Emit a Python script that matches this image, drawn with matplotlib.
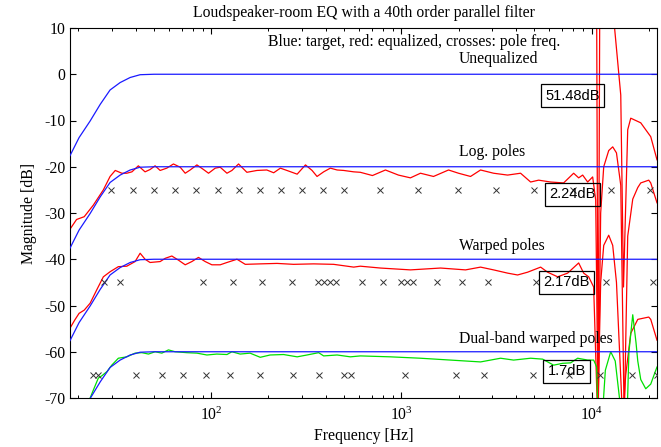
import matplotlib
matplotlib.use('Agg')
import matplotlib.pyplot as plt


# target response (relative dB)
target_f = [18.1, 20.2, 23.1, 26.1, 29.4, 33.2, 37.5, 42.3, 50, 22050]
target_db = [-17.6, -13.7, -10.1, -6.5, -3.4, -1.8, -0.7, -0.1, 0, 0]
group_offsets = [0, -20, -40, -60]

# unequalized response (mostly above the visible range)
uneq_f = [18.1, 9000, 10500, 10625, 10820, 11020, 11570, 13060, 14220, 14700,
          15470, 16050, 18110, 20440, 22050]
uneq_db = [25, 25, 18, 12, -75, 12, 20, 12, -4.5, -46,
           -12, -9.5, -10.5, -13.5, -18.5]

# log. poles equalized
logp_f = [18.1, 19.6, 21.5, 24.0, 27.1, 29.4, 31.3, 33.9, 36.0, 38.3, 41.4, 44.9,
          47.7, 50.7, 53.9, 58.4, 63.3, 68.7, 73.0, 77.5, 84.1, 91.1, 96.8, 105,
          111.5, 121, 128.5, 139.2, 154, 174, 196, 213, 231, 250, 283, 313, 339,
          360, 390, 423, 459, 497, 561, 608, 704, 824, 964, 1115, 1259, 1474,
          1768, 1995, 2308, 2605, 3050, 3614, 4229, 4776, 5262, 6085, 7121, 8040,
          8543, 8967, 9526, 10120, 10500, 10820, 11150, 11570, 12290, 12900,
          13500, 14220, 14830, 15470, 16440, 17470, 18110, 19950, 20440, 22050]
logp_db = [-33.5, -31.4, -30.8, -28.3, -25.0, -22.1, -20.8, -21.4, -21.4, -21.1,
           -19.8, -21.1, -20.6, -19.8, -20.8, -20.3, -19.4, -20.1, -21.4, -20.7,
           -19.6, -20.6, -21.4, -20.3, -20.1, -21.4, -20.8, -19.4, -21.2, -20.8,
           -20.7, -21.3, -20.3, -20.8, -21.6, -19.6, -20.8, -22.1, -21.1, -20.3,
           -20.7, -20.8, -21.1, -21.2, -21.9, -20.7, -21.8, -22.4, -21.4, -22.1,
           -20.7, -21.4, -22.1, -20.7, -21.4, -21.8, -21.4, -23.3, -22.9, -23.3,
           -23.5, -21.4, -22.4, -21.8, -23.3, -22.2, -27.2, -75, -30, -20,
           -16.5, -15.7, -17, -24, -75, -35, -27, -24.5, -23.5, -22.9,
           -23.5, -27.8]
logp_poles = [29.8, 38.7, 50.1, 64.6, 83.4, 108.5, 139.9, 181, 232.7, 298.8,
              388.6, 499.6, 775, 1229, 1971, 3124, 4952, 7943, 12589, 20200]

# warped poles equalized
warp_f = [18.1, 19.2, 20.2, 21.5, 23.1, 25.1, 27.1, 29.4, 32.5, 36.0, 39.8, 42.3,
          44.9, 47.7, 53.9, 57.3, 62.1, 67.3, 73.0, 79.1, 85.7, 93.0, 100.8,
          111.5, 121, 136.6, 151, 181, 222, 271, 345, 440, 518, 561, 608, 775,
          1115, 1605, 2172, 2605, 3050, 3614, 4078, 4604, 5391, 5868, 6624,
          7475, 8543, 9077, 9643, 10245, 10755, 11150, 11570, 12290, 12900,
          13500, 14560, 15100, 16050, 17470, 19950, 20440, 22050]
warp_db = [-54.9, -53.1, -51.7, -51.0, -49.5, -46.5, -43.8, -42.7, -41.6, -41.5,
           -40.5, -38.7, -40.0, -40.7, -40.5, -39.8, -39.3, -40.2, -41.2, -40.5,
           -39.6, -40.5, -41.2, -41.2, -40.7, -40.0, -41.1, -41.0, -40.9, -41.1,
           -41.0, -41.1, -41.5, -41.7, -41.5, -41.9, -42.3, -41.9, -42.3, -41.7,
           -42.3, -43.0, -43.4, -42.8, -41.7, -42.8, -43.8, -43.0, -40.8, -43.0,
           -43.8, -46.0, -75, -45, -37, -34.8, -37, -45, -75, -65, -56, -53,
           -52.5, -53, -57.5]
warp_poles = [27.3, 33.2, 90.8, 130.6, 185.5, 266.9, 365.8, 393.3, 423, 455,
              623, 804, 1000, 1075, 1157, 1547, 2070, 2836, 5073, 11850, 20950]

# dual-band warped poles equalized
dual_f = [18.1, 20.2, 23.1, 24.0, 25.5, 26.6, 28.3, 30.0, 32.5, 36.0, 39.8, 43.2,
          46.8, 50.7, 55.0, 59.6, 64.6, 74.5, 84.1, 94.9, 107, 121, 128.5, 142,
          160, 181, 204, 240, 283, 319, 367, 390, 459, 539, 608, 875, 1259, 1811,
          2605, 3320, 3886, 4776, 5524, 6310, 7036, 7752, 8440, 9526, 10245,
          10625, 10820, 11300, 11800, 12590, 13300, 14000, 14400, 15300, 15700,
          16440, 17100, 17470, 18110, 19240, 20440, 21500, 22050]
dual_db = [-78, -74.5, -70.0, -68.3, -65.7, -65.2, -64.3, -62.9, -61.4, -61.1,
           -60.3, -60.2, -60.5, -60.0, -60.3, -59.6, -60.0, -60.2, -60.3, -60.7,
           -60.5, -60.6, -60.0, -60.5, -60.3, -61.2, -60.7, -60.6, -61.1, -60.7,
           -60.2, -60.9, -60.7, -61.1, -60.9, -61.1, -61.4, -61.8, -62.2, -61.4,
           -61.8, -61.4, -61.6, -62.9, -62.5, -62.4, -61.4, -61.8, -61.8, -63.3,
           -76, -76, -64, -60, -62, -70, -76, -76, -60, -52, -58, -62, -66, -68,
           -67, -64.5, -63.3]
dual_poles = [24.0, 25.5, 40.3, 55.0, 70.9, 94.1, 124.8, 179.6, 267.9, 367,
              497, 543.6, 1050, 1924, 2701, 4893, 7565, 11020, 16240, 22000]

# text labels
group_names = ['Unequalized', 'Log. poles', 'Warped poles', 'Dual-band warped poles']
name_f = [2000, 2000, 2000, 2000]
name_db = [3.3, -16.9, -37.1, -57.2]
err_labels = ['51.48dB', '2.24dB', '2.17dB', '1.7dB']
err_f = [7943, 7900, 7380, 7380]
err_db = [-4.6, -26.0, -45.0, -64.2]

serif = ['Liberation Serif', 'DejaVu Serif']
sans = ['Liberation Sans', 'DejaVu Sans']
fs = 11.3


def draw():
    plt.rcParams['font.family'] = serif
    plt.rcParams['mathtext.fontset'] = 'custom'
    plt.rcParams['mathtext.rm'] = 'Liberation Serif'
    plt.rcParams['axes.unicode_minus'] = False

    fig = plt.figure(figsize=(6.61, 4.47), dpi=100)
    ax = fig.add_axes([70 / 661, 49 / 447, 587 / 661, 370 / 447])

    # blue targets
    for off in group_offsets:
        ax.plot(target_f, [v + off for v in target_db], color='#1a1aff', lw=0.9, zorder=3)

    # equalized curves
    ax.plot(uneq_f, uneq_db, color='red', lw=0.9, zorder=2)
    ax.plot(logp_f, logp_db, color='red', lw=0.9, zorder=2)
    ax.plot(warp_f, warp_db, color='red', lw=0.9, zorder=2)
    ax.plot(dual_f, dual_db, color='#00e000', lw=0.9, zorder=2)

    # pole frequencies
    for poles, y in [(logp_poles, -25), (warp_poles, -45), (dual_poles, -65)]:
        ax.plot(poles, [y] * len(poles), 'x', color='#333333', ms=4, mew=0.7, zorder=4)

    ax.text(200, 6.9, 'Blue: target, red: equalized, crosses: pole freq.',
            fontsize=fs, va='center')
    for name, f, db in zip(group_names, name_f, name_db):
        ax.text(f, db, name, fontsize=fs, va='center')
    for lab, f, db in zip(err_labels, err_f, err_db):
        ax.text(f, db, lab, fontsize=10.5, family=sans, ha='center', va='center',
                bbox=dict(boxstyle='square,pad=0.3', fc='none', ec='black', lw=0.9),
                zorder=5)

    ax.set_xscale('log')
    ax.set_xlim(18.1, 22050)
    ax.set_ylim(-70, 10)
    ax.set_yticks(range(-70, 11, 10))
    ax.tick_params(which='both', direction='in', top=True, right=True, labelsize=fs)
    ax.tick_params(which='major', length=4, width=0.8)
    ax.tick_params(which='minor', length=2.5, width=0.7)
    ax.tick_params(axis='x', which='major', pad=6)
    for sp in ax.spines.values():
        sp.set_linewidth(0.8)

    ax.set_title('Loudspeaker-room EQ with a 40th order parallel filter', fontsize=fs, pad=8)
    ax.set_xlabel('Frequency [Hz]', fontsize=fs, labelpad=3)
    ax.set_ylabel('Magnitude [dB]', fontsize=fs, labelpad=5)

    fig.savefig('out.png', dpi=100)


draw()
